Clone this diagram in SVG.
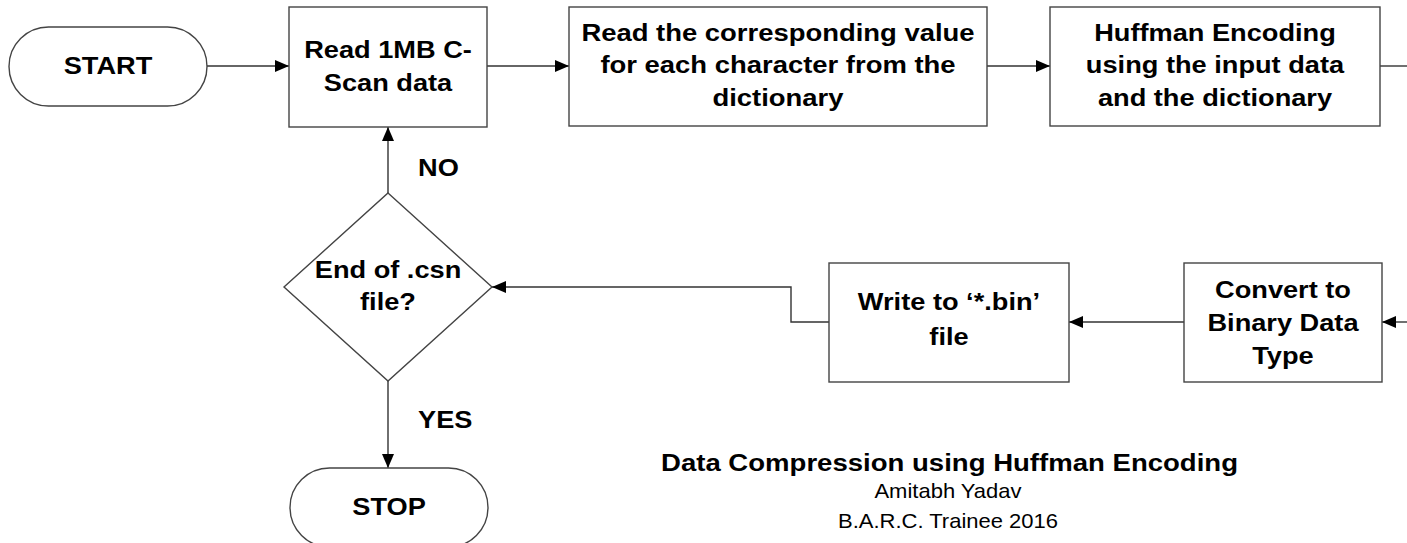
<svg xmlns="http://www.w3.org/2000/svg" width="1407" height="543" viewBox="0 0 1407 543">
<defs>
<style>
.shape{fill:#fff;stroke:#444;stroke-width:1.4}
.conn{fill:none;stroke:#333;stroke-width:1.4}
.t{font-family:"Liberation Sans",Arial,sans-serif;font-weight:bold;font-size:24.5px;fill:#000;text-anchor:middle}
.lbl{font-family:"Liberation Sans",Arial,sans-serif;font-weight:bold;font-size:24.5px;fill:#000}
.s{font-family:"Liberation Sans",Arial,sans-serif;font-size:20px;fill:#000;text-anchor:middle}
</style>
<marker id="ah" markerWidth="14" markerHeight="12" refX="14" refY="6" orient="auto" markerUnits="userSpaceOnUse">
<path d="M0,0 L14,6 L0,12 z" fill="#000"/>
</marker>
</defs>
<rect width="1407" height="543" fill="#fff"/>

<g id="connectors">
<path class="conn" d="M207,66 H289" marker-end="url(#ah)"/>
<path class="conn" d="M487,66 H569" marker-end="url(#ah)"/>
<path class="conn" d="M987,66 H1050" marker-end="url(#ah)"/>
<path class="conn" d="M1380,66 H1407"/>
<path class="conn" d="M1407,322 H1382" marker-end="url(#ah)"/>
<path class="conn" d="M1184,322 H1069" marker-end="url(#ah)"/>
<path class="conn" d="M829,322 H791 V287 H492" marker-end="url(#ah)"/>
<path class="conn" d="M388,193 V127" marker-end="url(#ah)"/>
<path class="conn" d="M388,381 V468" marker-end="url(#ah)"/>
<text class="lbl" transform="translate(418 176) scale(1.11 1)">NO</text>
<text class="lbl" transform="translate(418 428) scale(1.11 1)">YES</text>
</g>

<g id="start">
<rect class="shape" x="9" y="27" width="198" height="79" rx="39.5" ry="39.5"/>
<text class="t" transform="translate(108 74) scale(1.11 1)">START</text>
</g>

<g id="read-data">
<rect class="shape" x="289" y="7" width="198" height="120"/>
<text class="t" transform="translate(388 57.7) scale(1.11 1)"><tspan x="0" y="0">Read 1MB C-</tspan><tspan x="0" y="33.3">Scan data</tspan></text>
</g>

<g id="read-dict">
<rect class="shape" x="569" y="7" width="418" height="119"/>
<text class="t" transform="translate(778 40.5) scale(1.12 1)"><tspan x="0" y="0">Read the corresponding value</tspan><tspan x="0" y="33">for each character from the</tspan><tspan x="0" y="66">dictionary</tspan></text>
</g>

<g id="huffman">
<rect class="shape" x="1050" y="7" width="330" height="119"/>
<text class="t" transform="translate(1215 40.5) scale(1.11 1)"><tspan x="0" y="0">Huffman Encoding</tspan><tspan x="0" y="33">using the input data</tspan><tspan x="0" y="66">and the dictionary</tspan></text>
</g>

<g id="convert">
<rect class="shape" x="1184" y="263" width="198" height="119"/>
<text class="t" transform="translate(1283 298) scale(1.11 1)"><tspan x="0" y="0">Convert to</tspan><tspan x="0" y="33">Binary Data</tspan><tspan x="0" y="66">Type</tspan></text>
</g>

<g id="write">
<rect class="shape" x="829" y="263" width="240" height="119"/>
<text class="t" transform="translate(949 310) scale(1.11 1)"><tspan x="0" y="0">Write to ‘*.bin’</tspan><tspan x="0" y="35">file</tspan></text>
</g>

<g id="decision">
<polygon class="shape" points="388,193 492,287 388,381 284,287"/>
<text class="t" transform="translate(388 278) scale(1.11 1)"><tspan x="0" y="0">End of .csn</tspan><tspan x="0" y="32">file?</tspan></text>
</g>

<g id="stop">
<rect class="shape" x="290" y="468" width="198" height="79" rx="39.5" ry="39.5"/>
<text class="t" transform="translate(389 515) scale(1.11 1)">STOP</text>
</g>

<g id="caption">
<text class="t" transform="translate(949.5 471) scale(1.125 1)">Data Compression using Huffman Encoding</text>
<text class="s" transform="translate(948 498) scale(1.1 1)">Amitabh Yadav</text>
<text class="s" transform="translate(948 528) scale(1.1 1)">B.A.R.C. Trainee 2016</text>
</g>
</svg>
